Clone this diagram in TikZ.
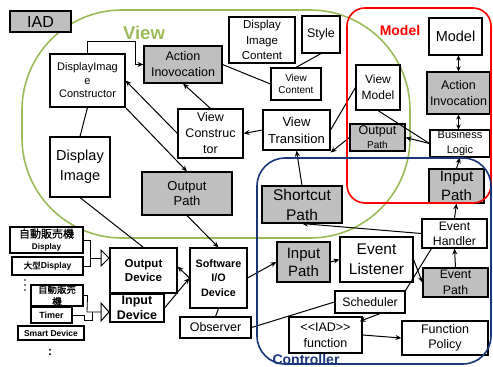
\documentclass[tikz,border=0pt]{standalone}
\usepackage{fontspec}
\setmainfont{Liberation Sans}
\newfontfamily\jpb[FakeBold=0.8]{Noto Sans CJK JP}
\usetikzlibrary{arrows.meta}
\definecolor{viewgreen}{RGB}{155,187,89}
\definecolor{modelred}{RGB}{255,0,0}
\definecolor{ctrlblue}{RGB}{25,55,120}
\definecolor{boxgray}{RGB}{191,191,191}
% \placebox{name}{x1}{y1}{x2}{y2}{style}{text}: a box given by its corners
\newcommand{\placebox}[6]{%
  \pgfmathsetmacro\bxw{#4-#2}\pgfmathsetmacro\bxh{#5-#3}%
  \node[#6,minimum width=\bxw pt,minimum height=\bxh pt] (#1) at ({(#2+#4)/2},{(#3+#5)/2})}
% Japanese labels in a medium weight
\newcommand{\jpt}[1]{{\jpb\mdseries #1}}
\begin{document}
\begin{tikzpicture}[x=1pt,y=-1pt,
  box/.style={draw=black,fill=white,line width=1.1pt,inner sep=0pt,align=center},
  gbox/.style={box,fill=boxgray},
  fs/.style 2 args={font=\fontsize{#1}{#2}\selectfont},
  fsb/.style 2 args={font=\bfseries\fontsize{#1}{#2}\selectfont},
  ln/.style={draw=black,line width=1pt},
  arr/.style={ln,-{Stealth[length=6pt,width=5pt]}},
  dbl/.style={ln,{Stealth[length=5pt,width=4.5pt]}-{Stealth[length=5pt,width=4.5pt]}},
  thinln/.style={draw=black,line width=0.8pt},
  gate/.style={draw=black,line width=1pt,fill=white},
  region/.style={line width=1.6pt,fill=none}]
\useasboundingbox (0,0) rectangle (493,367);
\fill[white] (0,0) rectangle (493,367);

% View region sits under the boxes
\draw[region,draw=viewgreen,rounded corners=100pt] (22,10) rectangle (410,238);

% ---------- View side ----------
\placebox{iad}{10}{11}{71}{32}{gbox,fs={16}{18}}{IAD};
\placebox{dic}{50}{54}{125}{107}{box,fs={11}{13.5}}{DisplayImag\\e\\Constructor};
\placebox{aiv}{144}{46}{222}{83}{gbox,fs={12.5}{16}}{Action\\Inovocation};
\placebox{dimc}{229}{17}{295}{63}{box,fs={11.5}{15.5}}{Display\\Image\\Content};
\placebox{style}{302}{16}{340}{53}{box,fs={12.5}{14}}{Style};
\placebox{vc}{271}{68}{321}{100}{box,fs={10}{12.5}}{View\\Content};
\placebox{vcon}{178}{109}{243}{158}{box,fs={12.5}{16}}{View\\Construc\\tor};
\placebox{vt}{263}{110}{330}{150}{box,fs={13}{17}}{View\\Transition};
\placebox{di}{50}{137}{110}{197}{box,fs={14.5}{20}}{Display\\Image};
\placebox{opv}{142}{172}{232}{215}{gbox,fs={13}{15.5}}{Output\\Path};

% ---------- Model side ----------
\placebox{vm}{356}{65}{400}{110}{box,fs={12}{16}}{View\\Model};
\placebox{model}{429}{18}{482}{55}{box,fs={14.5}{18}}{Model};
\placebox{aim}{427}{72}{490}{114}{gbox,fs={12.5}{16}}{Action\\Invocation};
\placebox{bl}{430}{130}{490}{157}{box,fs={11}{15}}{Business\\Logic};
\placebox{opm}{350}{124}{405}{151}{gbox,fs={12.5}{14}}{Output\\{\fontsize{10}{10}\selectfont Path}};
\placebox{ipm}{429}{169}{484}{203}{gbox,fs={15}{19}}{Input\\Path};

% ---------- Controller side ----------
\placebox{sp}{262}{186}{342}{223}{gbox,fs={15.5}{20}}{Shortcut\\Path};
\placebox{eh}{422}{219}{487}{248}{box,fs={12.3}{15}}{Event\\Handler};
\placebox{ep}{423}{268}{488}{297}{gbox,fs={12.3}{16}}{Event\\Path};
\placebox{el}{340}{237}{413}{282}{box,fs={15.5}{20}}{Event\\Listener};
\placebox{ipc}{277}{242}{330}{282}{gbox,fs={15}{18}}{Input\\Path};
\placebox{sch}{335}{291}{405}{313}{box,fs={12.3}{14}}{Scheduler};
\placebox{iadf}{289}{317}{362}{353}{box,fs={12.5}{16}}{\textless\kern0pt\textless IAD\textgreater\kern0pt\textgreater\\function};
\placebox{fp}{402}{321}{488}{355}{box,fs={12.5}{15}}{Function\\Policy};

% ---------- Devices ----------
\placebox{sio}{190}{248}{247}{308}{box,fsb={10.8}{14.5}}{Software\\I/O\\Device};
\placebox{obs}{180}{317}{251}{338}{box,fs={12.5}{15}}{Observer};
\placebox{od}{110}{248}{177}{293}{box,fsb={11.5}{14}}{Output\\Device};
\placebox{id}{110}{294}{164}{322}{box,fsb={12.5}{15}}{Input\\Device};
\placebox{vm1}{10}{227}{83}{253}{box,fsb={11}{12}}{\jpt{自動販売機}\\{\fontsize{8.2}{10}\selectfont Display}};
\placebox{big}{12}{257}{83}{275}{box,fsb={8.6}{10}}{\jpt{大型}Display};
\placebox{vm2}{31}{285}{83}{306}{box,fsb={9.5}{12}}{\jpt{自動販売}\\\jpt{機}};
\placebox{timer}{31}{307}{72}{323}{box,fsb={9}{10}}{Timer};
\placebox{smart}{18}{326}{84}{340}{box,fsb={8.5}{10}}{Smart Device};
\foreach \dy in {280,285,290} \fill (25,\dy) circle (0.9pt);
\node[fsb={12}{12}] (moreall) at (50,352) {:};

% output and input gates with their feed lines
\coordinate (g1) at (101,258);
\coordinate (j1) at (90,258);
\draw[gate] (g1) ++(0,-8) -- ++(0,16) -- ++(8,-8) -- cycle;
\draw[thinln] (vm1.east) -- ++(7,0) |- (big.east);
\draw[thinln] (j1) -- (g1);
\coordinate (g2) at (101,312);
\coordinate (j2) at (87,312);
\draw[gate] (g2) ++(0,-9) -- ++(0,18) -- ++(8,-9) -- cycle;
\draw[thinln] (vm2.east) -- ++(4,0) -- (j2) -- (g2);
\draw[thinln] (timer.east) -- (84,315) -- (84,320) -- (92,320) -- (92,312);

% ---------- Connectors ----------
\draw[arr] (dic.north) -- ++(0,-12) -| ([xshift=-8pt]aiv.west) -- (aiv.west);
\draw[ln] (aiv.east) -- (vc.west);
\draw[ln] (style.south) -- (vc.north);
\draw[arr] (vcon.north) -- (aiv.south);
\draw[arr] (vcon.west) -- (dic.east);
\draw[arr] (dic.south east) -- (opv.north);
\draw[ln] (dic.south) -- (di.north);
\draw[arr] (vt.west) -- (vcon.east);
\draw[ln] (vt.east) -- (vm.west);
\draw[ln] (vm.south) -- (bl.west);
\draw[arr] (bl.west) -- (opm.east);
\draw[arr] (opm.west) -- ([yshift=-2pt]vt.south east);
\draw[arr] (sp.north) -- (vt.south);
\draw[arr] (eh.west) -- (sp.south);
\draw[arr] (eh.north) -- (ipm.south);
\draw[arr] (ipm.north) -- (bl.south);
\draw[dbl] (aim.north |- model.south) -- (aim.north);
\draw[dbl] (aim.south) -- (aim.south |- bl.north);
\draw[arr] (ep.north) -- (eh.south);
\draw[arr] (el.east) -- (ep.west);
\draw[ln] (sch.north east) -- ([xshift=10pt]eh.south west);
\draw[arr] (ipc.east) -- (el.west);
\draw[arr] (sio.east) -- (ipc.west);
\draw[ln] (obs.east) -- (sch.west);
\draw[arr] ([xshift=10pt]sch.south) -- ([xshift=-3pt,yshift=-5pt]iadf.north east);
\draw[arr] (iadf.east) -- (fp.west);
\draw[ln] (sio.south) -- (obs.north);
\draw[arr] (opv.south) -- (sio.north);
\draw[ln] (di.south) -- (od.north);
\draw[arr] (sio.west) -- ([yshift=4pt]od.east);
\draw[arr] (id.east) -- (sio.west);

% Model and Controller regions drawn over the boxes
\draw[region,draw=modelred,rounded corners=18pt] (347,8) rectangle (491,203);
\draw[region,draw=ctrlblue,rounded corners=28pt] (257,158) rectangle (491,364);

% region labels
\node[text=viewgreen,font=\bfseries\fontsize{18.5}{20}\selectfont] (viewlbl) at (144,33) {View};
\node[text=modelred,font=\bfseries\fontsize{14}{16}\selectfont] (modellbl) at (400,30) {Model};
\node[text=ctrlblue,font=\bfseries\fontsize{14}{15}\selectfont] (ctrllbl) at (306,359) {Controller};
\end{tikzpicture}
\end{document}
